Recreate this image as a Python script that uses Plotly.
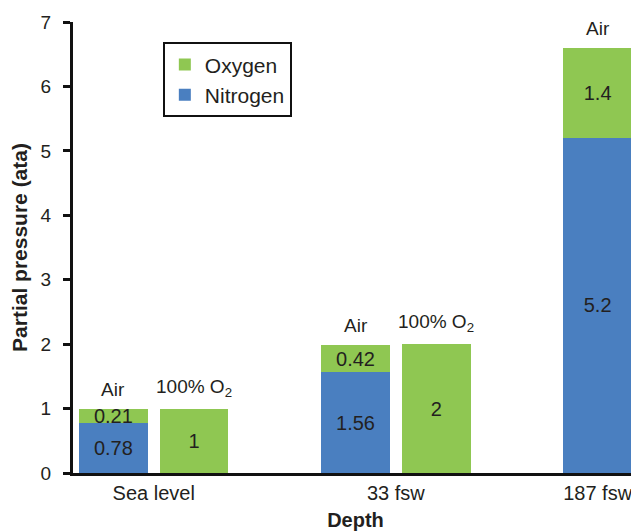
import plotly.graph_objects as go

# Data
oxygen_x = [0, 1, 3, 4, 6]                   # bar slots (Air / 100% O2 per depth)
nitrogen_x = [0, 3, 6]                       # only the Air bars contain nitrogen
mix_labels = ["Air", "100% O<sub>2</sub>", "Air", "100% O<sub>2</sub>", "Air"]
nitrogen = [0.78, 1.56, 5.2]
oxygen = [0.21, 1, 0.42, 2, 1.4]
nitrogen_text = ["0.78", "1.56", "5.2"]
oxygen_text = ["0.21", "1", "0.42", "2", "1.4"]
cat_pos = [0.5, 3.5, 6]
cat_labels = ["Sea level", "33 fsw", "187 fsw"]

FONT = "Liberation Sans, Arial, Helvetica, sans-serif"
DARK = "#231f20"
GREEN = "#8fc752"
BLUE = "#4a7fc0"

fig = go.Figure()
fig.add_trace(go.Bar(
    x=nitrogen_x, y=nitrogen, name="Nitrogen", marker=dict(color=BLUE, line=dict(width=0)),
    width=0.85, text=nitrogen_text, textposition="inside", insidetextanchor="middle",
    textangle=0, constraintext="none", textfont=dict(size=20, color=DARK, family=FONT),
    legendgroup="n", legendrank=2, hoverinfo="skip",
))
fig.add_trace(go.Bar(
    x=oxygen_x, y=oxygen, name="Oxygen", marker=dict(color=GREEN, line=dict(width=0)),
    width=0.85, text=oxygen_text, textposition="inside", insidetextanchor="middle",
    textangle=0, constraintext="none", textfont=dict(size=20, color=DARK, family=FONT),
    legendgroup="o", legendrank=1, hoverinfo="skip",
))

n_lookup = dict(zip(nitrogen_x, nitrogen))
totals = [n_lookup.get(xv, 0) + o for xv, o in zip(oxygen_x, oxygen)]
for xv, tv, lab in zip(oxygen_x, totals, mix_labels):
    fig.add_annotation(x=xv, y=tv, text=lab, showarrow=False, yanchor="bottom",
                       yshift=7, font=dict(size=19, color=DARK, family=FONT))

fig.update_layout(
    width=631, height=524,
    margin=dict(l=65, r=1, t=14, b=59),
    barmode="stack",
    plot_bgcolor="white", paper_bgcolor="white",
    font=dict(family=FONT, size=19, color=DARK),
    uniformtext=dict(minsize=20, mode="show"),
    showlegend=True,
    legend=dict(x=0.159, y=0.955, xanchor="left", yanchor="top",
                bordercolor="#111", borderwidth=2, bgcolor="white",
                font=dict(size=21, color=DARK, family=FONT),
                traceorder="grouped", tracegroupgap=0),
    xaxis=dict(range=[-0.5, 6.5], tickmode="array", tickvals=cat_pos, ticktext=cat_labels,
               showgrid=False, zeroline=False, showline=True, linecolor="#111", linewidth=2.5,
               ticks="", tickfont=dict(size=20, color=DARK),
               title=dict(text="<b>Depth</b>", font=dict(size=20, color=DARK), standoff=11)),
    yaxis=dict(range=[0, 7], dtick=1, showgrid=False, zeroline=False, showline=True,
               linecolor="#111", linewidth=3, ticks="outside", ticklen=7, tickwidth=2.5,
               tickcolor="#111", tickfont=dict(size=19, color=DARK), ticklabelstandoff=8,
               title=dict(text="<b>Partial pressure (ata)</b>", font=dict(size=21, color=DARK),
                          standoff=8)),
)

fig.write_html("out.html")
